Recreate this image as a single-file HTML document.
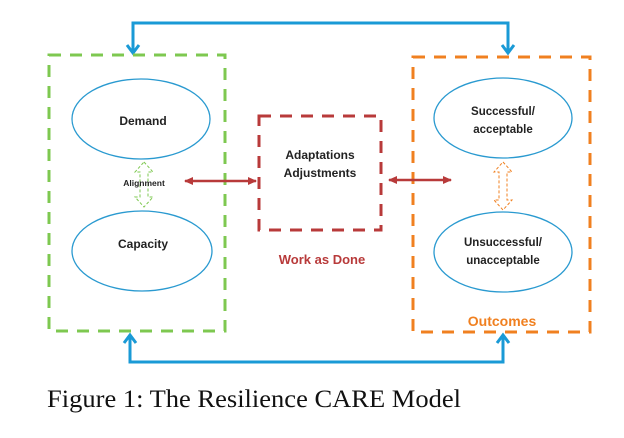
<!DOCTYPE html>
<html><head><style>html,body{margin:0;padding:0;background:#fff}svg{display:block}</style></head>
<body>
<svg width="624" height="438" viewBox="0 0 624 438" xmlns="http://www.w3.org/2000/svg">
<defs>
<marker id="rd" markerWidth="10" markerHeight="10" refX="8" refY="5" orient="auto-start-reverse" markerUnits="userSpaceOnUse"><path d="M0,1 L9,5 L0,9 Z" fill="#b83a3a"/></marker>
</defs>
<g fill="none" stroke="#1a9ad6" stroke-width="3">
<polyline points="133,53 133,23 508,23 508,53"/>
<polyline points="127,45 133,53 139,45"/>
<polyline points="502,45 508,53 514,45"/>
<polyline points="130,335 130,362 503,362 503,335"/>
<polyline points="124,343 130,335 136,343"/>
<polyline points="497,343 503,335 509,343"/>
</g>
<rect x="49" y="55" width="176" height="276" fill="none" stroke="#7ec850" stroke-width="3" stroke-dasharray="12,9"/>
<rect x="259" y="116" width="122" height="114" fill="none" stroke="#b83a3a" stroke-width="3" stroke-dasharray="12,9"/>
<rect x="413" y="57" width="177" height="275" fill="none" stroke="#f08020" stroke-width="3" stroke-dasharray="12,9"/>
<g fill="#fff" stroke="#2a9ad0" stroke-width="1.3">
<ellipse cx="141" cy="119" rx="69" ry="40"/>
<ellipse cx="142" cy="251" rx="70" ry="40"/>
<ellipse cx="503" cy="118" rx="69" ry="40"/>
<ellipse cx="503" cy="252" rx="69" ry="40"/>
</g>
<path d="M144,162 L153,172 L148,172 L148,197 L153,197 L144,207 L135,197 L140,197 L140,172 L135,172 Z" fill="none" stroke="#7ec850" stroke-width="1" stroke-dasharray="3,2"/>
<path d="M503,162 L512,172 L507,172 L507,200 L512,200 L503,210 L494,200 L499,200 L499,172 L494,172 Z" fill="none" stroke="#f08020" stroke-width="1" stroke-dasharray="3,2"/>
<g stroke="#b83a3a" stroke-width="2.5">
<line x1="185" y1="181" x2="256" y2="181" marker-start="url(#rd)" marker-end="url(#rd)"/>
<line x1="389" y1="180" x2="451" y2="180" marker-start="url(#rd)" marker-end="url(#rd)"/>
</g>
<g font-family="Liberation Sans, sans-serif" font-weight="bold" text-anchor="middle" fill="#222">
<text x="143" y="125" font-size="12">Demand</text>
<text x="143" y="248" font-size="12">Capacity</text>
<text x="144" y="186" font-size="8.5">Alignment</text>
<text x="320" y="159" font-size="12">Adaptations</text>
<text x="320" y="177" font-size="12">Adjustments</text>
<text x="503" y="115" font-size="11.5">Successful/</text>
<text x="503" y="133" font-size="11.5">acceptable</text>
<text x="503" y="246" font-size="11.5">Unsuccessful/</text>
<text x="503" y="264" font-size="11.5">unacceptable</text>
<text x="322" y="264" font-size="13" fill="#b83a3a">Work as Done</text>
<text x="502" y="326" font-size="14" fill="#f08020">Outcomes</text>
</g>
<text x="47" y="407" font-family="Liberation Serif, serif" font-size="25" fill="#111" textLength="414" lengthAdjust="spacingAndGlyphs">Figure 1: The Resilience CARE Model</text>
</svg>
</body></html>
